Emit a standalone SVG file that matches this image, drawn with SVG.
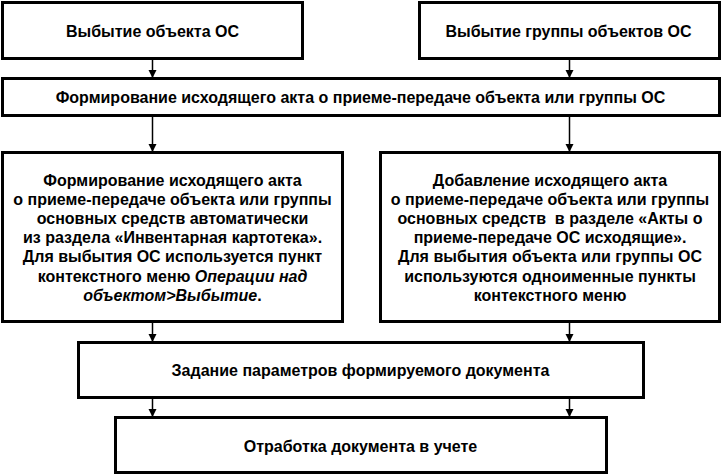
<svg xmlns="http://www.w3.org/2000/svg" width="722" height="476" viewBox="0 0 722 476">
<style>
rect.box{fill:#fff;stroke:#000;stroke-width:3}
text{font-family:"Liberation Sans",Arial,sans-serif;font-weight:bold;font-size:16px;fill:#000;text-anchor:middle}
.it{font-style:italic}
line.c{stroke:#000;stroke-width:1.5}
</style>
<defs>
<marker id="ah" markerWidth="8" markerHeight="10" refX="7" refY="4" orient="auto" markerUnits="userSpaceOnUse" viewBox="0 0 8 8">
<path d="M0,0 L8,4 L0,8 Z" fill="#000"/>
</marker>
</defs>
<rect width="722" height="476" fill="#fff"/>
<g id="connectors">
<line class="c" x1="152.5" y1="60" x2="152.5" y2="77" marker-end="url(#ah)"/>
<line class="c" x1="569.5" y1="60" x2="569.5" y2="77" marker-end="url(#ah)"/>
<line class="c" x1="152.5" y1="117" x2="152.5" y2="151" marker-end="url(#ah)"/>
<line class="c" x1="569.5" y1="117" x2="569.5" y2="151" marker-end="url(#ah)"/>
<line class="c" x1="152.5" y1="323" x2="152.5" y2="341" marker-end="url(#ah)"/>
<line class="c" x1="569.5" y1="323" x2="569.5" y2="341" marker-end="url(#ah)"/>
<line class="c" x1="152.5" y1="399" x2="152.5" y2="416" marker-end="url(#ah)"/>
<line class="c" x1="569.5" y1="399" x2="569.5" y2="416" marker-end="url(#ah)"/>
</g>
<g id="n1">
<rect class="box" x="2.5" y="2.5" width="300" height="56"/>
<text x="152.5" y="36.5">Выбытие объекта ОС</text>
</g>
<g id="n2">
<rect class="box" x="419.5" y="2.5" width="300" height="56"/>
<text x="568.5" y="36.5">Выбытие группы объектов ОС</text>
</g>
<g id="n3">
<rect class="box" x="2.5" y="78.5" width="717" height="37"/>
<text x="360.5" y="102.5">Формирование исходящего акта о приеме-передаче объекта или группы ОС</text>
</g>
<g id="n4">
<rect class="box" x="2.5" y="152.5" width="340" height="169"/>
<text x="172.5" y="185.5">Формирование исходящего акта</text>
<text x="172.5" y="204.7">о приеме-передаче объекта или группы</text>
<text x="172.5" y="223.9">основных средств автоматически</text>
<text x="172.5" y="243.1">из раздела «Инвентарная картотека».</text>
<text x="172.5" y="262.3">Для выбытия ОС используется пункт</text>
<text x="172.5" y="281.5">контекстного меню <tspan class="it">Операции над</tspan></text>
<text x="172.5" y="300.7"><tspan class="it">объектом&gt;Выбытие</tspan>.</text>
</g>
<g id="n5">
<rect class="box" x="380.5" y="152.5" width="339" height="169"/>
<text x="550" y="185.5">Добавление исходящего акта</text>
<text x="550" y="204.7">о приеме-передаче объекта или группы</text>
<text x="550" y="223.9" xml:space="preserve">основных средств  в разделе «Акты о</text>
<text x="550" y="243.1">приеме-передаче ОС исходящие».</text>
<text x="550" y="262.3">Для выбытия объекта или группы ОС</text>
<text x="550" y="281.5">используются одноименные пункты</text>
<text x="550" y="300.7">контекстного меню</text>
</g>
<g id="n6">
<rect class="box" x="78.5" y="342.5" width="565" height="55"/>
<text x="360.5" y="375.5">Задание параметров формируемого документа</text>
</g>
<g id="n7">
<rect class="box" x="115.5" y="417.5" width="491" height="55"/>
<text x="360.5" y="451.5">Отработка документа в учете</text>
</g>
</svg>
